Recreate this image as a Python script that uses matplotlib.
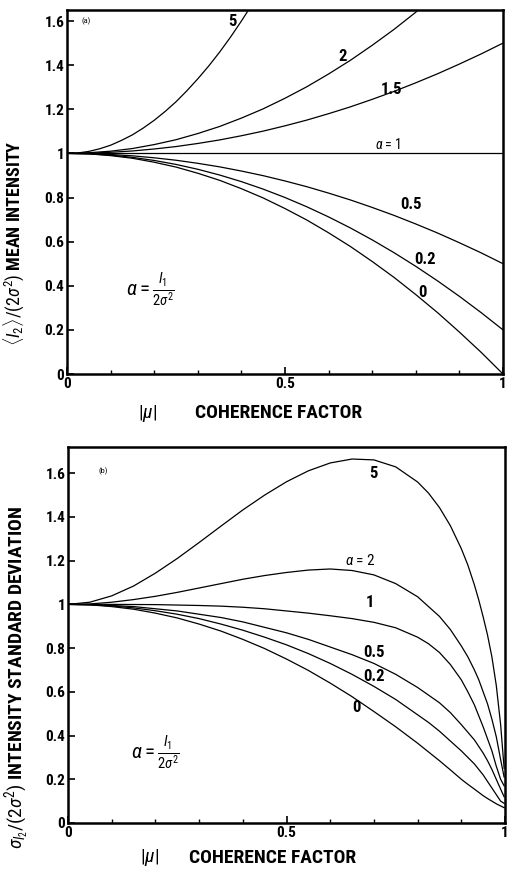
import matplotlib
matplotlib.use("Agg")
import matplotlib.pyplot as plt
from matplotlib import font_manager
from matplotlib.ticker import MultipleLocator, FixedLocator

# ---------------- data ----------------
# Panel (a): mean intensity vs coherence factor
mu_a = [0.0, 0.05, 0.10, 0.15, 0.20, 0.25, 0.30, 0.35, 0.40, 0.45, 0.50,
        0.55, 0.60, 0.65, 0.70, 0.75, 0.80, 0.85, 0.90, 0.95, 1.00]
mu_a5 = [0.0, 0.025, 0.05, 0.075, 0.10, 0.125, 0.15, 0.175, 0.20, 0.225, 0.25,
         0.275, 0.30, 0.325, 0.35, 0.375, 0.40, 0.425, 0.45]
mean_a5 = [1.0, 1.002, 1.009, 1.021, 1.037, 1.059, 1.084, 1.115, 1.15, 1.19, 1.234,
           1.284, 1.338, 1.396, 1.459, 1.527, 1.60, 1.677, 1.759]
mean_a2 = [1.0, 1.003, 1.01, 1.022, 1.04, 1.062, 1.09, 1.122, 1.16, 1.202, 1.25,
           1.302, 1.36, 1.422, 1.49, 1.562, 1.64, 1.722]
mean_a15 = [1.0, 1.001, 1.005, 1.011, 1.02, 1.031, 1.045, 1.061, 1.08, 1.101, 1.125,
            1.151, 1.18, 1.211, 1.245, 1.281, 1.32, 1.361, 1.405, 1.451, 1.5]
mean_a1 = [1.0] * 21
mean_a05 = [1.0, 0.999, 0.995, 0.989, 0.98, 0.969, 0.955, 0.939, 0.92, 0.899, 0.875,
            0.849, 0.82, 0.789, 0.755, 0.719, 0.68, 0.639, 0.595, 0.549, 0.5]
mean_a02 = [1.0, 0.998, 0.992, 0.982, 0.968, 0.95, 0.928, 0.902, 0.872, 0.838, 0.8,
            0.758, 0.712, 0.662, 0.608, 0.55, 0.488, 0.422, 0.352, 0.278, 0.2]
mean_a0 = [1.0, 0.998, 0.99, 0.978, 0.96, 0.938, 0.91, 0.878, 0.84, 0.798, 0.75,
           0.698, 0.64, 0.578, 0.51, 0.438, 0.36, 0.278, 0.19, 0.098, 0.0]

# Panel (b): intensity standard deviation vs coherence factor
mu_b = [0.0, 0.05, 0.10, 0.15, 0.20, 0.25, 0.30, 0.35, 0.40, 0.45, 0.50, 0.55,
        0.60, 0.65, 0.70, 0.75, 0.80, 0.825, 0.85, 0.875, 0.90, 0.915, 0.93, 0.94,
        0.95, 0.96, 0.97, 0.98, 0.99, 0.998]
std_a5 = [1.0, 1.01, 1.039, 1.084, 1.143, 1.21, 1.283, 1.358, 1.432, 1.5, 1.561, 1.611,
          1.647, 1.665, 1.661, 1.629, 1.56, 1.509, 1.443, 1.36, 1.255, 1.18, 1.089, 1.02,
          0.943, 0.86, 0.76, 0.63, 0.45, 0.25]
std_a2 = [1.0, 1.002, 1.01, 1.022, 1.037, 1.055, 1.075, 1.095, 1.115, 1.132, 1.146, 1.157,
          1.162, 1.155, 1.135, 1.095, 1.035, 0.99, 0.945, 0.885, 0.81, 0.76, 0.70, 0.655,
          0.60, 0.545, 0.475, 0.395, 0.29, 0.21]
std_a1 = [1.0, 1.0, 1.0, 0.9995, 0.999, 0.997, 0.995, 0.992, 0.987, 0.98, 0.97, 0.96,
          0.948, 0.935, 0.918, 0.893, 0.85, 0.82, 0.78, 0.725, 0.655, 0.60, 0.54, 0.49,
          0.44, 0.385, 0.33, 0.26, 0.20, 0.17]
std_a05 = [1.0, 0.999, 0.995, 0.99, 0.98, 0.97, 0.955, 0.94, 0.92, 0.895, 0.87, 0.84,
           0.805, 0.77, 0.73, 0.68, 0.62, 0.585, 0.55, 0.505, 0.45, 0.415, 0.38, 0.35,
           0.32, 0.285, 0.245, 0.20, 0.155, 0.12]
std_a02 = [1.0, 0.998, 0.993, 0.984, 0.971, 0.955, 0.935, 0.91, 0.882, 0.85, 0.815, 0.775,
           0.73, 0.68, 0.625, 0.565, 0.495, 0.46, 0.42, 0.375, 0.33, 0.30, 0.27, 0.245,
           0.22, 0.19, 0.16, 0.13, 0.10, 0.09]
std_a0 = [1.0, 0.998, 0.99, 0.978, 0.96, 0.938, 0.91, 0.878, 0.84, 0.798, 0.75, 0.698,
          0.64, 0.578, 0.51, 0.44, 0.365, 0.325, 0.285, 0.243, 0.20, 0.177, 0.155, 0.14,
          0.125, 0.112, 0.10, 0.088, 0.078, 0.07]

y_ticks = [0, 0.2, 0.4, 0.6, 0.8, 1.0, 1.2, 1.4, 1.6]
y_ticklabels = ["0", "0.2", "0.4", "0.6", "0.8", "1", "1.2", "1.4", "1.6"]
x_ticks = [0, 0.5, 1.0]
x_ticklabels = ["0", "0.5", "1"]

# ---------------- fonts ----------------
names = {f.name for f in font_manager.fontManager.ttflist}
narrow = "DejaVu Sans"
for cand in ["Roboto Condensed", "Liberation Sans Narrow", "Open Sans Condensed", "DejaVu Sans Condensed"]:
    if cand in names:
        narrow = cand
        break
plt.rcParams["font.family"] = [narrow, "DejaVu Sans"]
plt.rcParams["mathtext.fontset"] = "custom"
plt.rcParams["mathtext.rm"] = narrow
plt.rcParams["mathtext.it"] = narrow + ":italic"

W, H = 508, 873
fig = plt.figure(figsize=(W / 100, H / 100), dpi=100)
fig.patch.set_facecolor("white")


def px_axes(l, t, r, b):
    return fig.add_axes([l / W, 1 - b / H, (r - l) / W, (b - t) / H])


def style(ax, ymax, xmax):
    ax.set_xlim(0, xmax)
    ax.set_ylim(0, ymax)
    for s in ax.spines.values():
        s.set_linewidth(1.8)
    ax.yaxis.set_major_locator(FixedLocator(y_ticks))
    ax.set_yticklabels(y_ticklabels, fontweight="bold")
    ax.xaxis.set_major_locator(FixedLocator(x_ticks))
    ax.set_xticklabels(x_ticklabels, fontweight="bold")
    ax.xaxis.set_minor_locator(MultipleLocator(0.1))
    ax.tick_params(axis="both", which="major", direction="in", length=5, width=1.2,
                   labelsize=11, pad=2)
    ax.tick_params(axis="x", which="minor", direction="in", length=3, width=1.0)
    ax.tick_params(top=False, right=False, which="both")


lw = 0.9
# ---------------- panel (a) ----------------
ax1 = px_axes(67, 10, 503, 374)
style(ax1, 1.65, 1.0)
ax1.plot(mu_a5, mean_a5, color="black", lw=lw)
for vals in [mean_a2, mean_a15, mean_a1, mean_a05, mean_a02, mean_a0]:
    ax1.plot(mu_a[:len(vals)], vals, color="black", lw=lw)

lab = dict(fontsize=12, ha="center", va="center", fontweight="bold")
ax1.text(0.38, 1.60, "5", **lab)
ax1.text(0.633, 1.44, "2", **lab)
ax1.text(0.745, 1.29, "1.5", **lab)
ax1.text(0.736, 1.04, r"$\alpha$ = 1", fontsize=10, ha="center", va="center")
ax1.text(0.79, 0.77, "0.5", **lab)
ax1.text(0.82, 0.52, "0.2", **lab)
ax1.text(0.815, 0.37, "0", **lab)
ax1.text(0.045, 1.60, "(a)", fontsize=6, ha="center", va="center")
ax1.text(0.19, 0.38, r"$\alpha = \frac{I_1}{2\sigma^2}$", fontsize=15, ha="center", va="center")

axlab = dict(fontsize=14, fontweight="bold", ha="center", va="center")
fig.text(14 / W, 1 - 243 / H, r"$\langle I_2\rangle/(2\sigma^2)$ MEAN INTENSITY",
         rotation=90, fontsize=13, fontweight="bold", ha="center", va="center")
fig.text(148 / W, 1 - 413 / H, r"$|\mu|$", **axlab)
fig.text(279 / W, 1 - 413 / H, "COHERENCE FACTOR", **axlab)

# ---------------- panel (b) ----------------
ax2 = px_axes(68, 447, 505, 823)
style(ax2, 1.72, 1.0)
for vals in [std_a5, std_a2, std_a1, std_a05, std_a02, std_a0]:
    ax2.plot(mu_b[:len(vals)], vals, color="black", lw=lw)

ax2.text(0.70, 1.60, "5", **lab)
ax2.text(0.67, 1.20, r"$\alpha$ = 2", fontsize=11, ha="center", va="center")
ax2.text(0.69, 1.01, "1", **lab)
ax2.text(0.70, 0.78, "0.5", **lab)
ax2.text(0.70, 0.67, "0.2", **lab)
ax2.text(0.66, 0.53, "0", **lab)
ax2.text(0.08, 1.61, "(b)", fontsize=6, ha="center", va="center")
ax2.text(0.20, 0.32, r"$\alpha = \frac{I_1}{2\sigma^2}$", fontsize=15, ha="center", va="center")

fig.text(17 / W, 1 - 677 / H, r"$\sigma_{I_2}/(2\sigma^2)$ INTENSITY STANDARD DEVIATION",
         rotation=90, **axlab)
fig.text(150 / W, 1 - 858 / H, r"$|\mu|$", **axlab)
fig.text(273 / W, 1 - 858 / H, "COHERENCE FACTOR", **axlab)

fig.savefig("out.png", dpi=100, facecolor="white")
